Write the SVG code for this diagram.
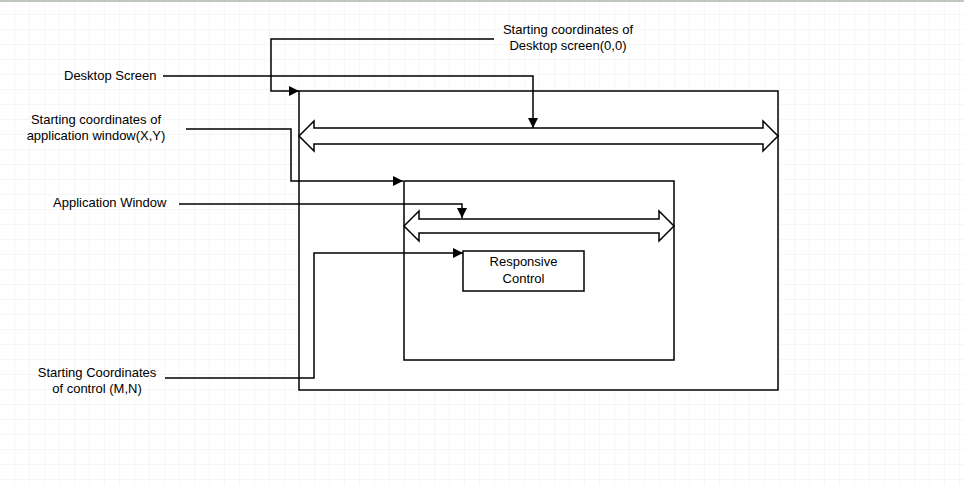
<svg xmlns="http://www.w3.org/2000/svg" width="964" height="485" viewBox="0 0 964 485">
<defs>
<pattern id="grid" width="15" height="15" patternUnits="userSpaceOnUse"><path d="M15 0V15H0" fill="none" stroke="#ececec" stroke-width="1"/></pattern>
<marker id="ah" viewBox="0 0 10 10" refX="10" refY="5" markerWidth="10" markerHeight="10" markerUnits="userSpaceOnUse" orient="auto"><path d="M0 0L10 5L0 10Z" fill="#000"/></marker>
</defs>
<style>
.box{fill:#fff;stroke:#000;stroke-width:1.5}
.dbl{fill:#fff;stroke:#000;stroke-width:1.5;stroke-linejoin:miter}
.ln{fill:none;stroke:#000;stroke-width:1.5;marker-end:url(#ah)}
text{font-family:"Liberation Sans",Arial,sans-serif;font-size:13px;fill:#000}
</style>
<rect width="964" height="485" fill="#fff"/>
<rect width="964" height="485" fill="url(#grid)"/>
<rect x="0" y="0" width="964" height="2" fill="#c0c8c0"/>
<g id="desktop">
<rect class="box" x="299" y="91" width="479" height="299"/>
<path class="dbl" d="M299 136L314 121V128H763V121L778 136L763 151V144H314V151Z"/>
</g>
<g id="appwindow">
<rect class="box" x="404" y="181" width="270" height="179"/>
<path class="dbl" d="M404 226L419 211V219H659V211L674 226L659 241V233H419V241Z"/>
</g>
<g id="control">
<rect class="box" x="463" y="251" width="121" height="40"/>
<text x="523.5" y="266" text-anchor="middle">Responsive</text>
<text x="523.5" y="283" text-anchor="middle">Control</text>
</g>
<g id="labels">
<text x="568" y="34" text-anchor="middle">Starting coordinates of</text>
<text x="568" y="50" text-anchor="middle">Desktop screen(0,0)</text>
<text x="64" y="80">Desktop Screen</text>
<text x="96" y="124" text-anchor="middle">Starting coordinates of</text>
<text x="96" y="140" text-anchor="middle">application window(X,Y)</text>
<text x="53" y="207">Application Window</text>
<text x="97" y="377" text-anchor="middle">Starting Coordinates</text>
<text x="97" y="393" text-anchor="middle">of control (M,N)</text>
</g>
<g id="connectors">
<path class="ln" d="M494 39H271V91H299"/>
<path class="ln" d="M163 76H533V128"/>
<path class="ln" d="M186 129H291V181H403"/>
<path class="ln" d="M179 204H462V218"/>
<path class="ln" d="M165 378H314V253H463"/>
</g>
</svg>
